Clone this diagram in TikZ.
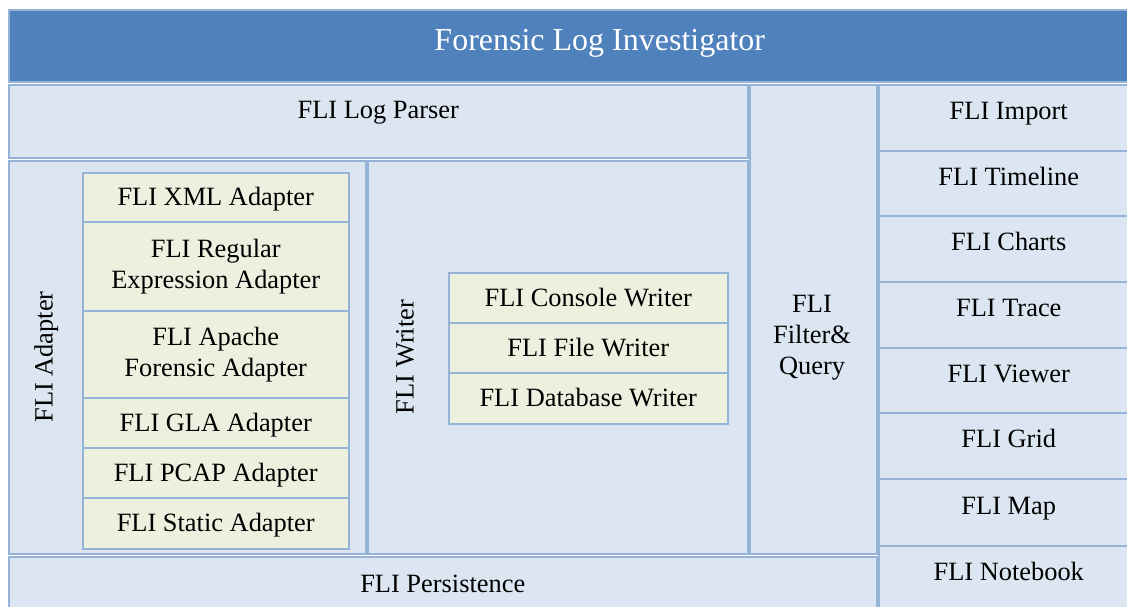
\documentclass[tikz,border=0pt]{standalone}
\usepackage{fontspec}
\setmainfont{Liberation Serif}
\definecolor{hdrblue}{HTML}{4F81BD}
\definecolor{edgeblue}{HTML}{95B3D7}
\definecolor{paleblue}{HTML}{DCE6F2}
\definecolor{palegreen}{HTML}{EBF1DE}
\tikzset{
  cell/.style={draw=edgeblue, line width=1.5pt, fill=paleblue, inner sep=0pt,
               anchor=north west, font=\fontsize{26.4}{31}\selectfont, align=center},
  part/.style={cell, fill=palegreen},
  size/.style 2 args={minimum width=#1pt, minimum height=#2pt},
  oneline/.style={text height=17.4pt, text depth=#1},
  oneline/.default=0pt,
  sidelabel/.style={font=\fontsize{26.4}{31}\selectfont, rotate=90,
                    text height=17.4pt, text depth=0pt, inner sep=0pt},
  plainlabel/.style={font=\fontsize{26.4}{31}\selectfont, align=center, inner sep=0pt},
}
\begin{document}
\begin{tikzpicture}[x=1pt,y=-1pt]
\clip (0,0) rectangle (1127,606);
\fill[white] (0,0) rectangle (1127,606);

% header bar
\node[cell, fill=hdrblue, text=white, font=\fontsize{32}{38}\selectfont,
      text height=21.2pt, text depth=11pt, size={1182}{72}] (title) at (8,9) {Forensic Log Investigator};

% parser, persistence and query blocks
\node[cell, oneline=22pt, size={739}{73}] (parser) at (8,84) {FLI Log Parser};
\node[cell, size={357}{393}] (adapter) at (8,160) {};
\node[cell, size={380}{393}] (writer) at (367,160) {};
\node[cell, size={127}{469}] (filter) at (749,84) {};
\node[cell, oneline=10pt, size={868}{64}] (persist) at (8,556) {FLI Persistence};

\node[sidelabel] (adapterlabel) at (44,357) {FLI Adapter};
\node[sidelabel] (writerlabel) at (405,357) {FLI Writer};
\node[plainlabel] (filterlabel) at (812,338) {FLI\\Filter\&\\Query};

% adapters
\node[part, oneline, size={266}{49}] (xml) at (82,172) {FLI XML Adapter};
\node[part, size={266}{89}] (regex) at (82,221) {FLI Regular\\Expression Adapter};
\node[part, size={266}{87}] (apache) at (82,310) {FLI Apache\\Forensic Adapter};
\node[part, oneline, size={266}{50}] (gla) at (82,397) {FLI GLA Adapter};
\node[part, oneline, size={266}{50}] (pcap) at (82,447) {FLI PCAP Adapter};
\node[part, oneline, size={266}{51}] (static) at (82,497) {FLI Static Adapter};

% writers
\node[part, oneline, size={279}{50}] (console) at (448,272) {FLI Console Writer};
\node[part, oneline, size={279}{50}] (file) at (448,322) {FLI File Writer};
\node[part, oneline, size={279}{51}] (database) at (448,372) {FLI Database Writer};

% view modules
\node[cell, oneline=13pt, size={260}{66}] (import) at (878,84) {FLI Import};
\node[cell, oneline=13pt, size={260}{65}] (timeline) at (878,150) {FLI Timeline};
\node[cell, oneline=13pt, size={260}{66}] (charts) at (878,215) {FLI Charts};
\node[cell, oneline=13pt, size={260}{66}] (trace) at (878,281) {FLI Trace};
\node[cell, oneline=13pt, size={260}{65}] (viewer) at (878,347) {FLI Viewer};
\node[cell, oneline=13pt, size={260}{66}] (grid) at (878,412) {FLI Grid};
\node[cell, oneline=13pt, size={260}{67}] (map) at (878,478) {FLI Map};
\node[cell, oneline=13pt, size={260}{66}] (notebook) at (878,545) {FLI Notebook};
\end{tikzpicture}
\end{document}
